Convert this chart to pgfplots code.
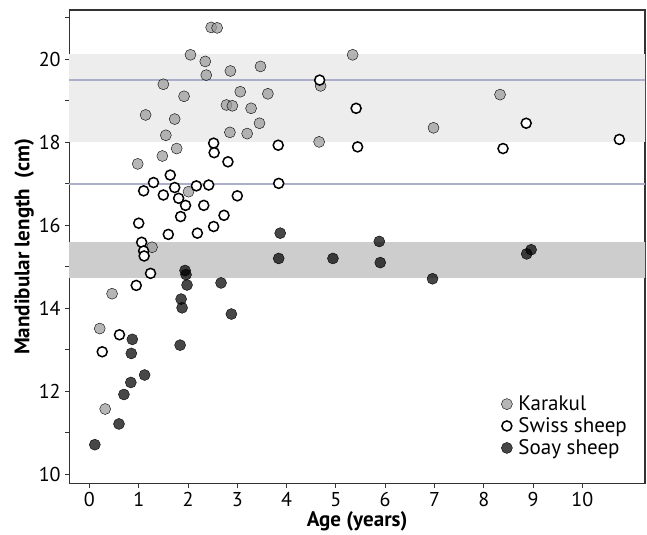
\documentclass[border=0pt]{standalone}
\usepackage{fontspec}
\setmainfont{PT Sans}
\usepackage{pgfplots}
\usepackage{pgfplotstable}
\pgfplotsset{compat=1.18}

\definecolor{karakul}{HTML}{9A9A9A}
\definecolor{bandlight}{HTML}{EDEDED}
\definecolor{banddark}{HTML}{CDCDCD}
\definecolor{refline}{HTML}{ABB0C8}
\definecolor{axisgray}{HTML}{333333}

% age (years), mandibular length (cm)
\pgfplotstableread{
age len
2.47 20.77
2.59 20.76
2.05 20.11
2.35 19.95
2.37 19.62
2.86 19.72
3.47 19.83
1.50 19.40
1.92 19.11
3.06 19.22
3.62 19.17
1.14 18.66
1.73 18.56
2.78 18.90
2.90 18.88
3.28 18.82
3.45 18.46
1.55 18.17
2.85 18.24
3.20 18.21
1.77 17.85
1.48 17.67
0.98 17.48
2.01 16.81
1.27 15.47
0.46 14.35
0.21 13.51
0.32 11.57
5.34 20.11
4.69 19.36
4.66 18.01
6.98 18.35
8.33 19.15
}\karakul

\pgfplotstableread{
age len
2.52 17.98
2.53 17.75
2.81 17.53
1.64 17.21
1.30 17.03
1.10 16.83
1.73 16.91
1.50 16.73
1.81 16.65
2.17 16.95
2.42 16.97
3.00 16.71
1.95 16.48
2.32 16.48
1.85 16.21
2.73 16.24
1.00 16.05
2.52 15.97
1.60 15.78
2.19 15.81
1.06 15.59
1.10 15.38
1.11 15.26
1.24 14.84
0.95 14.55
0.61 13.36
0.26 12.95
4.67 19.50
5.41 18.82
5.44 17.89
3.83 17.93
3.84 17.01
8.86 18.46
8.39 17.85
10.75 18.07
}\swiss

\pgfplotstableread{
age len
1.94 14.91
1.96 14.81
1.98 14.56
2.67 14.61
1.86 14.22
1.88 14.01
2.88 13.86
1.84 13.11
0.87 13.25
0.85 12.91
1.12 12.39
0.84 12.21
0.70 11.92
0.60 11.21
0.11 10.71
3.87 15.81
3.84 15.20
4.94 15.20
5.88 15.61
5.90 15.10
6.96 14.71
8.87 15.31
8.96 15.41
}\soay

\begin{document}
\begin{tikzpicture}
\begin{axis}[
    name=main,
    scale only axis,
    width=575pt, height=473pt,
    xmin=-0.41, xmax=11.27,
    ymin=9.77, ymax=21.19,
    xtick={0,1,...,10},
    ytick={10,11,...,21},
    yticklabels={10,,12,,14,,16,,18,,20,},
    xtick pos=bottom, ytick pos=left,
    tick align=outside,
    major tick length=4pt,
    tick style={axisgray, line width=1pt},
    axis line style={axisgray, line width=1.2pt},
    /pgf/number format/assume math mode=true,
    tick label style={font=\fontsize{20}{22}\selectfont},
    xticklabel style={yshift=-1pt},
    yticklabel style={xshift=-1pt},
    xlabel={\textbf{Age (years)}},
    ylabel={\textbf{Mandibular length\ \ (cm)}},
    label style={font=\fontsize{21}{22}\selectfont},
    xlabel style={yshift=2pt},
    ylabel style={yshift=-2pt},
    legend style={at={(0.745,0.194)}, anchor=north west, draw=none, fill=none,
        font=\fontsize{21}{23.5}\selectfont, row sep=1.5pt,
        /tikz/every odd column/.append style={column sep=4pt}},
    legend cell align=left,
]
\addplot[draw=none, fill=bandlight, forget plot] coordinates {(-1,18.0) (12,18.0) (12,20.13) (-1,20.13)} -- cycle;
\addplot[draw=none, fill=banddark, forget plot] coordinates {(-1,14.72) (12,14.72) (12,15.6) (-1,15.6)} -- cycle;
\addplot[refline, line width=1.5pt, forget plot] coordinates {(-1,19.5) (12,19.5)};
\addplot[refline, line width=1.5pt, forget plot] coordinates {(-1,17.0) (12,17.0)};

\addplot[only marks, mark=*, mark size=5.5pt,
    mark options={draw=none, fill=karakul, fill opacity=0.72}] table[x=age, y=len] {\karakul};
\addlegendentry{Karakul}
\addplot[only marks, mark=*, mark size=5pt,
    mark options={draw=black, fill=white, line width=1.5pt}] table[x=age, y=len] {\swiss};
\addlegendentry{Swiss sheep}
\addplot[only marks, mark=*, mark size=5.5pt,
    mark options={draw=none, fill=black, fill opacity=0.72}] table[x=age, y=len] {\soay};
\addlegendentry{Soay sheep}
\end{axis}
\path (main.north) ++(0,10pt);
\path (current bounding box.west) ++(-11pt,0);
\path (main.east) ++(2pt,0);
\end{tikzpicture}
\end{document}
